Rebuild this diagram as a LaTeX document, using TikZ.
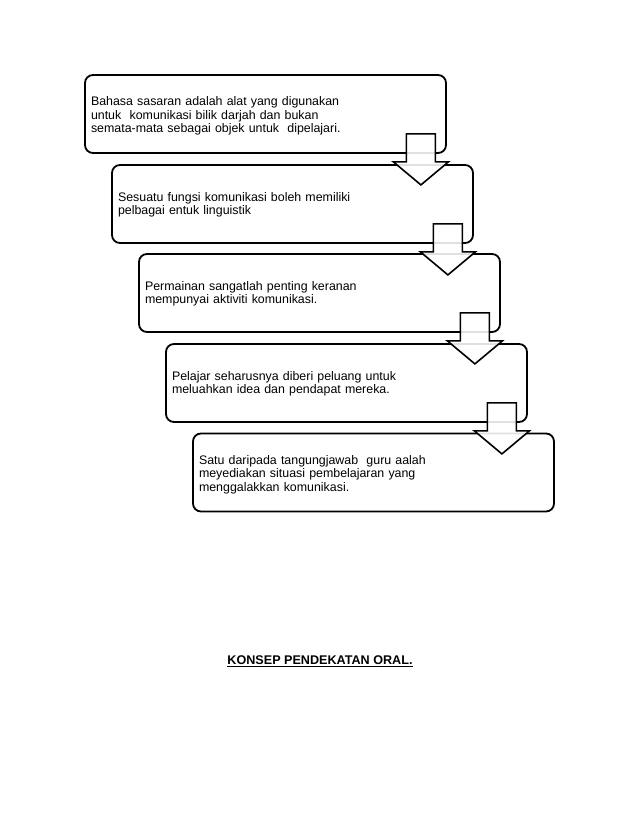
\documentclass[tikz,border=0pt]{standalone}
\usepackage{fontspec}
\setmainfont{Liberation Sans}
\usetikzlibrary{calc}
\begin{document}
\begin{tikzpicture}[x=1pt,y=-1pt,
  stepbox/.style={draw=black, line width=1.8pt, rounded corners=8pt, fill=white,
    minimum width=361pt, minimum height=78pt, inner sep=0pt},
  steptext/.style={text width=349pt, align=left, inner sep=0pt,
    font=\fontsize{12.4}{13.4}\selectfont},
  blockarr/.style={draw=black, line width=1.6pt, fill=white, fill opacity=0.88, line join=miter},
  title/.style={font=\fontsize{12.6}{14}\selectfont\bfseries}]
\useasboundingbox (0,0) rectangle (638,826);
\node[stepbox] (b1) at (265.5,114) {};
\node[stepbox] (b2) at (292.5,204) {};
\node[stepbox] (b3) at (319.5,293) {};
\node[stepbox] (b4) at (346.5,383) {};
\node[stepbox] (b5) at (373.5,472.5) {};
\node[steptext] (t1) at ([yshift=-2pt]b1.center) {Bahasa sasaran adalah alat yang digunakan\\untuk\ \ komunikasi bilik darjah dan bukan\\semata-mata sebagai objek untuk\ \ dipelajari.};
\node[steptext] (t2) at ([yshift=-1pt]b2.center) {Sesuatu fungsi komunikasi boleh memiliki\\pelbagai entuk linguistik};
\node[steptext] (t3) at ([yshift=-1pt]b3.center) {Permainan sangatlah penting keranan\\mempunyai aktiviti komunikasi.};
\node[steptext] (t4) at ([yshift=-1pt]b4.center) {Pelajar seharusnya diberi peluang untuk\\meluahkan idea dan pendapat mereka.};
\node[steptext] (t5) at ([yshift=-2pt]b5.center) {Satu daripada tangungjawab\ \ guru aalah\\meyediakan situasi pembelajaran yang\\menggalakkan komunikasi.};
\foreach \b in {b1,b2,b3,b4}{
  \draw[blockarr] ($(\b.south east)+(-40.5,-20)$) -- ++(29,0) -- ++(0,28) -- ++(13,0)
    -- ++(-27.5,23) -- ++(-27.5,-23) -- ++(13,0) -- cycle;
}
\node[title] (t) at (320,661) {\underline{KONSEP PENDEKATAN ORAL.}};
\end{tikzpicture}
\end{document}
